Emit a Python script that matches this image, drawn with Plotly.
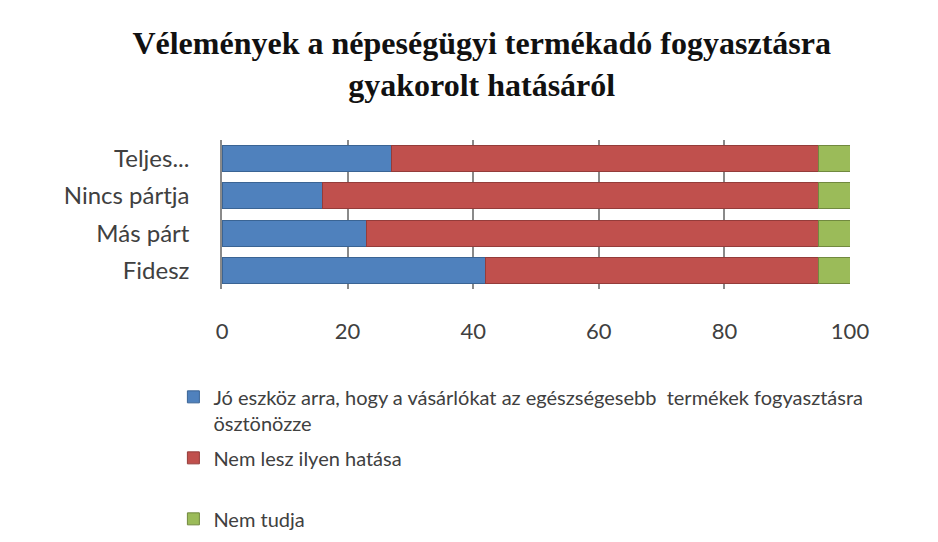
import plotly.graph_objects as go

categories = ["Fidesz", "Más párt", "Nincs pártja", "Teljes..."]
series_names = [
    "Jó eszköz arra, hogy a vásárlókat az egészségesebb  termékek fogyasztásra<br>ösztönözze",
    "Nem lesz ilyen hatása<br> ",
    "Nem tudja",
]
jo_eszkoz = [42, 23, 16, 27]
nem_lesz = [53, 72, 79, 68]
nem_tudja = [5, 5, 5, 5]
x_ticks = [0, 20, 40, 60, 80, 100]

colors = ["#4F81BD", "#C0504D", "#9BBB59"]
edge_colors = ["#3A6494", "#943C3A", "#71893F"]

fig = go.Figure()
for i, (name, vals) in enumerate(zip(series_names, [jo_eszkoz, nem_lesz, nem_tudja])):
    fig.add_trace(go.Bar(
        y=categories, x=vals, name=name, orientation="h",
        marker=dict(color=colors[i], line=dict(color=edge_colors[i], width=1)),
        legendgroup=f"g{i}",
    ))

fig.update_layout(
    barmode="stack",
    bargap=0.30,
    width=938, height=542,
    paper_bgcolor="white", plot_bgcolor="white",
    margin=dict(l=214, r=96, t=132, b=248),
    title=dict(
        text="<b>Vélemények a népeségügyi termékadó fogyasztásra<br>gyakorolt hatásáról</b>",
        x=0.505, xanchor="center", y=0.915, yanchor="top",
        font=dict(family="Liberation Serif", size=32, color="#111111"),
    ),
    xaxis=dict(
        range=[0, 100], tickvals=x_ticks, showgrid=True, gridcolor="#8A8A8A", gridwidth=1.5,
        zeroline=False, showline=False, ticks="",
        tickfont=dict(family="Lato", size=22, color="#404040"),
        ticklabelstandoff=27,
    ),
    yaxis=dict(
        showline=True, linecolor="#8A8A8A", linewidth=1.5, ticks="",
        tickfont=dict(family="Lato", size=24, color="#404040"),
        ticklabelstandoff=26,
    ),
    legend=dict(
        x=-0.0774, xanchor="left", y=-0.593, yanchor="top",
        traceorder="grouped", tracegroupgap=6, valign="top",
        font=dict(family="Lato", size=20, color="#404040"),
        itemwidth=30,
    ),
    showlegend=True,
)

fig.write_html("out.html")
